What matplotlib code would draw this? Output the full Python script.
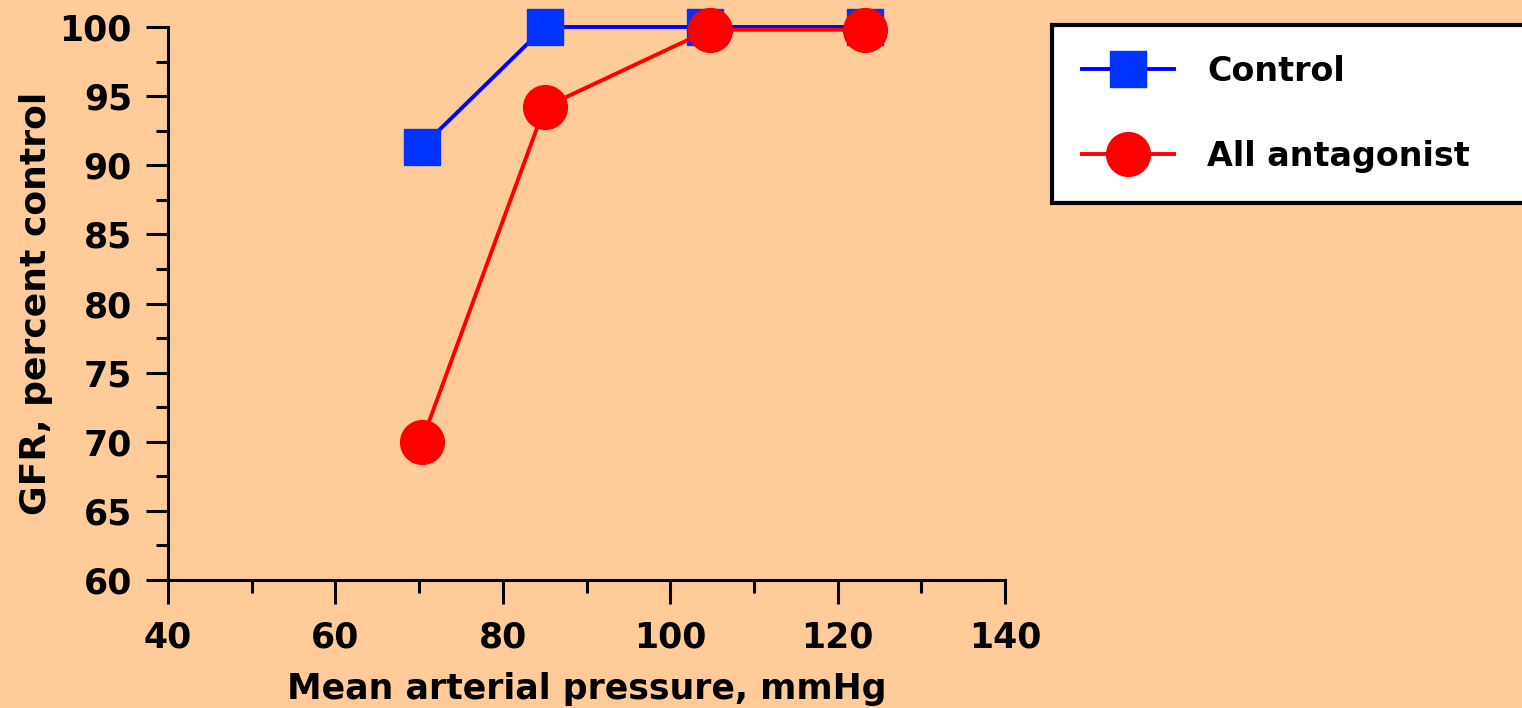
import matplotlib
matplotlib.use("Agg")
import matplotlib.pyplot as plt

###### DATA ######
control_x = [70.3, 85.0, 104.2, 123.3]
control_y = [91.3, 100.0, 100.0, 100.0]
antag_x = [70.3, 85.0, 104.7, 123.3]
antag_y = [70.0, 94.2, 99.8, 99.8]
series_labels = ['Control', 'All antagonist']
x_ticks = [40, 60, 80, 100, 120, 140]
y_ticks = [60, 65, 70, 75, 80, 85, 90, 95, 100]

BG = '#FFCC99'
plt.rcParams['font.family'] = ['DejaVu Sans']
plt.rcParams['font.weight'] = 'bold'

fig = plt.figure(figsize=(15.22, 7.08), dpi=100, facecolor=BG)
ax = fig.add_axes([168 / 1522, 1 - 580 / 708, (1005 - 168) / 1522, (580 - 27) / 708])
ax.set_facecolor(BG)

ax.plot(control_x, control_y, color='#0000FF', lw=2.8, marker='s', ms=26.5,
        mfc='#0033FF', mec='#0033FF', label=series_labels[0], clip_on=False, zorder=3)
ax.plot(antag_x, antag_y, color='#FF0000', lw=2.8, marker='o', ms=31.5,
        mfc='#FF0000', mec='#FF0000', label=series_labels[1], clip_on=False, zorder=4)

ax.set_xlim(40, 140)
ax.set_ylim(60, 100)
ax.set_xticks(x_ticks)
ax.set_yticks(y_ticks)
ax.set_xticks(range(50, 140, 20), minor=True)
ax.set_yticks([62.5 + 5 * i for i in range(8)], minor=True)

for s in ['top', 'right']:
    ax.spines[s].set_visible(False)
for s in ['left', 'bottom']:
    ax.spines[s].set_linewidth(2.2)

ax.tick_params(axis='both', which='both', width=2.2, color='black', labelsize=25)
ax.tick_params(axis='y', which='major', length=16, pad=10)
ax.tick_params(axis='y', which='minor', length=8.5)
ax.tick_params(axis='x', which='major', length=17.5, pad=12)
ax.tick_params(axis='x', which='minor', length=9)
for lab in ax.get_xticklabels() + ax.get_yticklabels():
    lab.set_fontweight('bold')

ax.set_xlabel('Mean arterial pressure, mmHg', fontsize=25, fontweight='bold', labelpad=12)
ax.set_ylabel('GFR, percent control', fontsize=26, fontweight='bold', labelpad=5)

leg = fig.legend(loc='upper left',
                 bbox_to_anchor=(1052 / 1522, 1 - 25 / 708 - 0.01, 500 / 1522, 0.01),
                 mode='expand', fontsize=24, frameon=True, fancybox=False,
                 framealpha=1, borderpad=0.9, labelspacing=1.55, handlelength=2.75,
                 handletextpad=1.0, borderaxespad=0)
leg.get_frame().set_edgecolor('black')
leg.get_frame().set_linewidth(3)
leg.get_frame().set_facecolor('white')
for t in leg.get_texts():
    t.set_fontweight('bold')

fig.savefig('out.png', dpi=100, facecolor=BG)
